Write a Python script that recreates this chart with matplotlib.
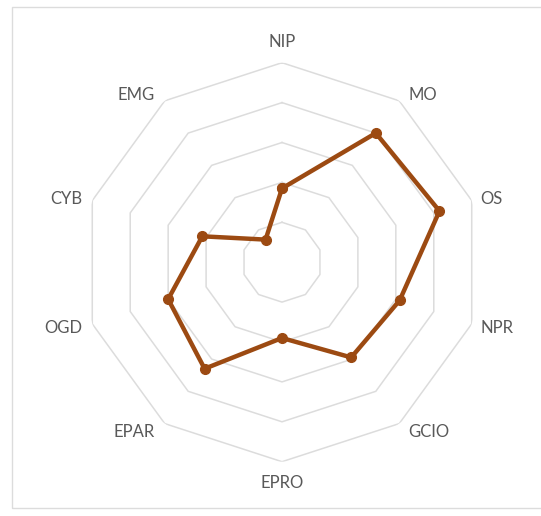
import numpy as np
import matplotlib
matplotlib.use('Agg')
import matplotlib.pyplot as plt
from matplotlib.patches import Rectangle

# categories clockwise from the top
categories = ['NIP', 'MO', 'OS', 'NPR', 'GCIO', 'EPRO', 'EPAR', 'OGD', 'CYB', 'EMG']
scores = [1.85, 4.0, 4.15, 3.1, 2.95, 1.9, 3.3, 3.0, 2.1, 0.7]
rings = [1, 2, 3, 4, 5]

line_color = '#9C4A12'
grid_color = '#dcdcdc'
text_color = '#595959'

plt.rcParams['font.family'] = ['Lato', 'DejaVu Sans']

fig = plt.figure(figsize=(5.41, 5.16), dpi=100)
fig.patches.append(Rectangle((12 / 541, 8 / 516), 1.0, 1 - 15 / 516, transform=fig.transFigure,
                             fill=False, edgecolor=grid_color, lw=1.0))

ax = fig.add_axes([0.1525, 0.1052, 0.7375, 0.7733], projection='polar')
ax.set_theta_zero_location('N')
ax.set_theta_direction(-1)
ax.set_ylim(0, 5)
ax.set_xticks([])
ax.set_yticks([])
ax.grid(False)
ax.spines['polar'].set_visible(False)
ax.patch.set_alpha(0)

angles = np.linspace(0, 2 * np.pi, len(categories), endpoint=False)
closed = np.append(angles, angles[0])

# decagon rings
for r in rings:
    ax.plot(closed, [r] * len(closed), color=grid_color, lw=1.1, zorder=1)

vals = np.append(scores, scores[0])
ax.plot(closed, vals, color=line_color, lw=3.2, marker='o', markersize=7,
        solid_joinstyle='round', zorder=3, clip_on=False)

# label offsets from the outer vertex, in pixels (excel style)
dy_side = [0, 6, 1.5, -4, -8, 0, -8, -4, 1.5, 6]
for i, (a, lab) in enumerate(zip(angles, categories)):
    s = np.sin(a)
    if abs(s) < 1e-6:
        ha, dx, dy = 'center', 0, 21 if np.cos(a) > 0 else -21
    elif s > 0:
        ha, dx, dy = 'left', 9, dy_side[i]
    else:
        ha, dx, dy = 'right', -10, dy_side[i]
    ax.annotate(lab, xy=(a, 5), xytext=(dx, dy), textcoords='offset pixels',
                ha=ha, va='center', fontsize=12, color=text_color,
                annotation_clip=False)

fig.savefig('out.png', dpi=100)
